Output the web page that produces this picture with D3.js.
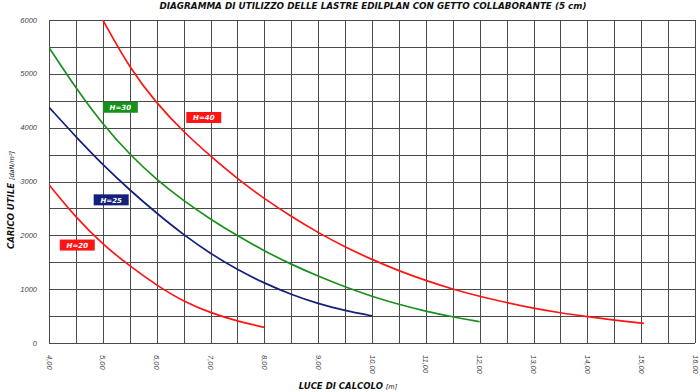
<!DOCTYPE html>
<html>
<head>
<meta charset="utf-8">
<title>Diagramma di utilizzo lastre Edilplan</title>
<script src="https://d3js.org/d3.v7.min.js"></script>
<style>
  body { margin: 0; background: #fff; }
  .title { font-family: "DejaVu Sans", sans-serif; font-weight: bold; font-style: italic; font-size: 8.5px; fill: #111; }
  .tick-label { font-family: "Liberation Sans", sans-serif; font-style: italic; font-size: 7.5px; fill: #444; }
  .axis-title { font-family: "DejaVu Sans", sans-serif; font-weight: bold; font-style: italic; font-size: 8.5px; fill: #111; }
  .axis-unit { font-weight: normal; font-size: 6.5px; }
  .grid line { stroke: #4a4a4a; stroke-width: 1; shape-rendering: crispEdges; }
  .curve { fill: none; stroke-width: 1.7px; }
  .tag text { font-family: "DejaVu Sans", sans-serif; font-weight: bold; font-style: italic; font-size: 7px; fill: #fff; }
</style>
</head>
<body>
<div id="chart"></div>
<script>
// span (m) and useful load (daN/m2)
var spanH20 = [4.0, 4.5, 5.0, 5.5, 6.0, 6.5, 7.0, 7.5, 8.0];
var loadH20 = [2940, 2330, 1830, 1430, 1070, 770, 560, 405, 290];

var spanH25 = [4.0, 4.5, 5.0, 5.5, 6.0, 6.5, 7.0, 7.5, 8.0, 8.5, 9.0, 9.5, 10.0];
var loadH25 = [4380, 3830, 3310, 2840, 2410, 2010, 1660, 1360, 1110, 900, 730, 600, 505];

var spanH30 = [4.0, 4.5, 5.0, 5.5, 6.0, 6.5, 7.0, 7.5, 8.0, 8.5, 9.0, 9.5, 10.0, 10.5, 11.0, 11.5, 12.0];
var loadH30 = [5490, 4730, 4060, 3500, 3030, 2640, 2300, 1990, 1710, 1460, 1240, 1040, 865, 715, 590, 485, 395];

var spanH40 = [5.0, 5.5, 6.0, 6.5, 7.0, 7.5, 8.0, 8.5, 9.0, 9.5, 10.0, 10.5, 11.0, 11.5, 12.0, 12.5, 13.0, 13.5, 14.0, 14.5, 15.05];
var loadH40 = [6000, 5100, 4450, 3920, 3470, 3050, 2680, 2350, 2050, 1780, 1550, 1340, 1160, 1000, 865, 750, 645, 560, 490, 425, 365];

var seriesNames = ["H=20", "H=25", "H=30", "H=40"];
var seriesColors = ["#ff1414", "#14207a", "#18901c", "#ff1414"];
// label anchor in data units (span, load)
var labelSpan = [4.2, 4.83, 5.0, 6.55];
var labelLoad = [1810, 2650, 4370, 4180];

var xTicks = [4, 5, 6, 7, 8, 9, 10, 11, 12, 13, 14, 15, 16];
var yTicks = [0, 1000, 2000, 3000, 4000, 5000, 6000];

var W = 700, H = 392;
var margin = { left: 49, right: 695, top: 20, bottom: 343 };

var svg = d3.select("#chart").append("svg")
  .attr("width", W).attr("height", H);

var x = d3.scaleLinear().domain([4, 16]).range([margin.left, margin.right]);
var y = d3.scaleLinear().domain([0, 6000]).range([margin.bottom, margin.top]);

// grid every 0.5 m and every 500 daN/m2
var grid = svg.append("g").attr("class", "grid");
grid.selectAll(".vx").data(d3.range(4, 16.01, 0.5)).enter().append("line")
  .attr("x1", function(d) { return Math.round(x(d)) + 0.5; })
  .attr("x2", function(d) { return Math.round(x(d)) + 0.5; })
  .attr("y1", y(6000)).attr("y2", y(0));
grid.selectAll(".hy").data(d3.range(0, 6001, 500)).enter().append("line")
  .attr("y1", function(d) { return Math.round(y(d)) + 0.5; })
  .attr("y2", function(d) { return Math.round(y(d)) + 0.5; })
  .attr("x1", x(4)).attr("x2", x(16));

// y tick labels
svg.selectAll(".ylab").data(yTicks).enter().append("text")
  .attr("class", "tick-label")
  .attr("x", margin.left - 12)
  .attr("y", function(d) { return y(d) + 2.5; })
  .attr("text-anchor", "end")
  .text(function(d) { return d; });

// x tick labels, rotated
var fmt = function(d) { return d3.format(".2f")(d).replace(".", ","); };
svg.selectAll(".xlab").data(xTicks).enter().append("text")
  .attr("class", "tick-label")
  .attr("transform", function(d) { return "translate(" + (x(d) - 2.5) + "," + (margin.bottom + 12) + ") rotate(90)"; })
  .attr("text-anchor", "start")
  .text(fmt);

// curves
svg.append("clipPath").attr("id", "plot")
  .append("rect").attr("x", margin.left).attr("y", margin.top)
  .attr("width", margin.right - margin.left).attr("height", margin.bottom - margin.top);

var line = d3.line()
  .x(function(d) { return x(d[0]); })
  .y(function(d) { return y(d[1]); })
  .curve(d3.curveBasis);

var spans = [spanH20, spanH25, spanH30, spanH40];
var loads = [loadH20, loadH25, loadH30, loadH40];

spans.forEach(function(s, i) {
  var pts = s.map(function(v, j) { return [v, loads[i][j]]; });
  svg.append("path")
    .attr("class", "curve")
    .attr("clip-path", "url(#plot)")
    .attr("stroke", seriesColors[i])
    .attr("d", line(pts));
});

// series tags
seriesNames.forEach(function(name, i) {
  var g = svg.append("g").attr("class", "tag")
    .attr("transform", "translate(" + x(labelSpan[i]) + "," + y(labelLoad[i]) + ")");
  g.append("rect").attr("x", 0).attr("y", -6).attr("width", 35).attr("height", 11)
    .attr("fill", seriesColors[i]);
  g.append("text").attr("x", 17.5).attr("y", 2.5).attr("text-anchor", "middle").text(name);
});

// titles
svg.append("text").attr("class", "title")
  .attr("x", 373).attr("y", 9)
  .attr("text-anchor", "middle")
  .attr("textLength", 427).attr("lengthAdjust", "spacingAndGlyphs")
  .text("DIAGRAMMA DI UTILIZZO DELLE LASTRE EDILPLAN CON GETTO COLLABORANTE (5 cm)");

var xt = svg.append("text").attr("class", "axis-title")
  .attr("x", 348).attr("y", 389).attr("text-anchor", "middle");
xt.append("tspan").text("LUCE DI CALCOLO ");
xt.append("tspan").attr("class", "axis-unit").text("[m]");

var yt = svg.append("text").attr("class", "axis-title")
  .attr("transform", "translate(14,200) rotate(-90)")
  .attr("text-anchor", "middle");
yt.append("tspan").text("CARICO UTILE ");
yt.append("tspan").attr("class", "axis-unit").text("[daN/m²]");
</script>
</body>
</html>
